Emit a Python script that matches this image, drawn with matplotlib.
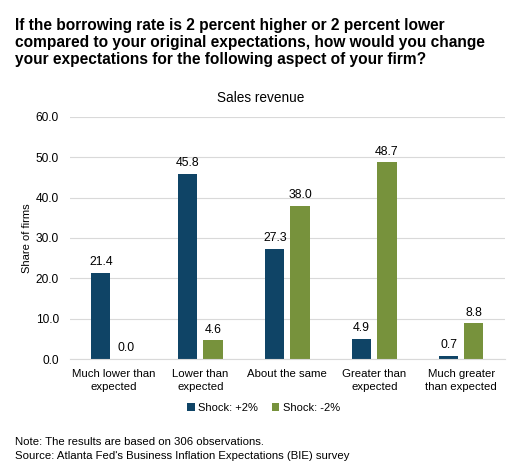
import numpy as np
import matplotlib.pyplot as plt

plt.rcParams['font.family'] = ['Liberation Sans', 'DejaVu Sans']

categories = ['Much lower than\nexpected', 'Lower than\nexpected', 'About the same',
              'Greater than\nexpected', 'Much greater\nthan expected']
shock_up = [21.4, 45.8, 27.3, 4.9, 0.7]
shock_down = [0.0, 4.6, 38.0, 48.7, 8.8]
series_names = ['Shock: +2%', 'Shock: -2%']
yticks = [0, 10, 20, 30, 40, 50, 60]

blue = '#0F4466'
green = '#77923C'

fig = plt.figure(figsize=(5.22, 4.73), dpi=100)
ax = fig.add_axes([0.134, 0.241, 0.833, 0.512])

x = np.arange(len(categories))
w = 0.22
off = 0.145
b1 = ax.bar(x - off, shock_up, w, color=blue, label=series_names[0])
b2 = ax.bar(x + off, shock_down, w, color=green, label=series_names[1])

for bars in (b1, b2):
    for r in bars:
        ax.text(r.get_x() + r.get_width() / 2, r.get_height() + 1.2, f'{r.get_height():.1f}',
                ha='center', va='bottom', fontsize=8.8)

ax.set_xlim(-0.5, len(categories) - 0.5)
ax.set_ylim(0, 60)
ax.set_yticks(yticks)
ax.set_yticklabels([f'{v:.1f}' for v in yticks], fontsize=8.6)
ax.set_xticks(x)
ax.set_xticklabels(categories, fontsize=8.2, linespacing=1.35)
ax.tick_params(axis='y', length=0, pad=8)
ax.tick_params(axis='x', length=0, pad=7)
ax.grid(axis='y', color='#d9d9d9', linewidth=0.8)
ax.set_axisbelow(True)
for s in ['top', 'right', 'left']:
    ax.spines[s].set_visible(False)
ax.spines['bottom'].set_color('#d9d9d9')
ax.set_ylabel('Share of firms', fontsize=8)
ax.yaxis.set_label_coords(-0.088, 0.5)

fig.text(0.5, 0.792, 'Sales revenue', fontsize=9.8, ha='center', va='center')

fig.legend(handles=[b1, b2], loc='center', bbox_to_anchor=(0.505, 0.138), ncol=2, frameon=False,
           fontsize=8, handlelength=0.7, handleheight=0.7, handletextpad=0.3, columnspacing=1.2)

fig.text(0.029, 0.962, 'If the borrowing rate is 2 percent higher or 2 percent lower\n'
         'compared to your original expectations, how would you change\n'
         'your expectations for the following aspect of your firm?',
         fontsize=11.2, fontweight='bold', va='top', ha='left', linespacing=1.18)
fig.text(0.029, 0.077, "Note: The results are based on 306 observations.\n"
         "Source: Atlanta Fed's Business Inflation Expectations (BIE) survey",
         fontsize=8.2, va='top', ha='left', linespacing=1.6)

fig.savefig('out.png', dpi=100, facecolor='white')
